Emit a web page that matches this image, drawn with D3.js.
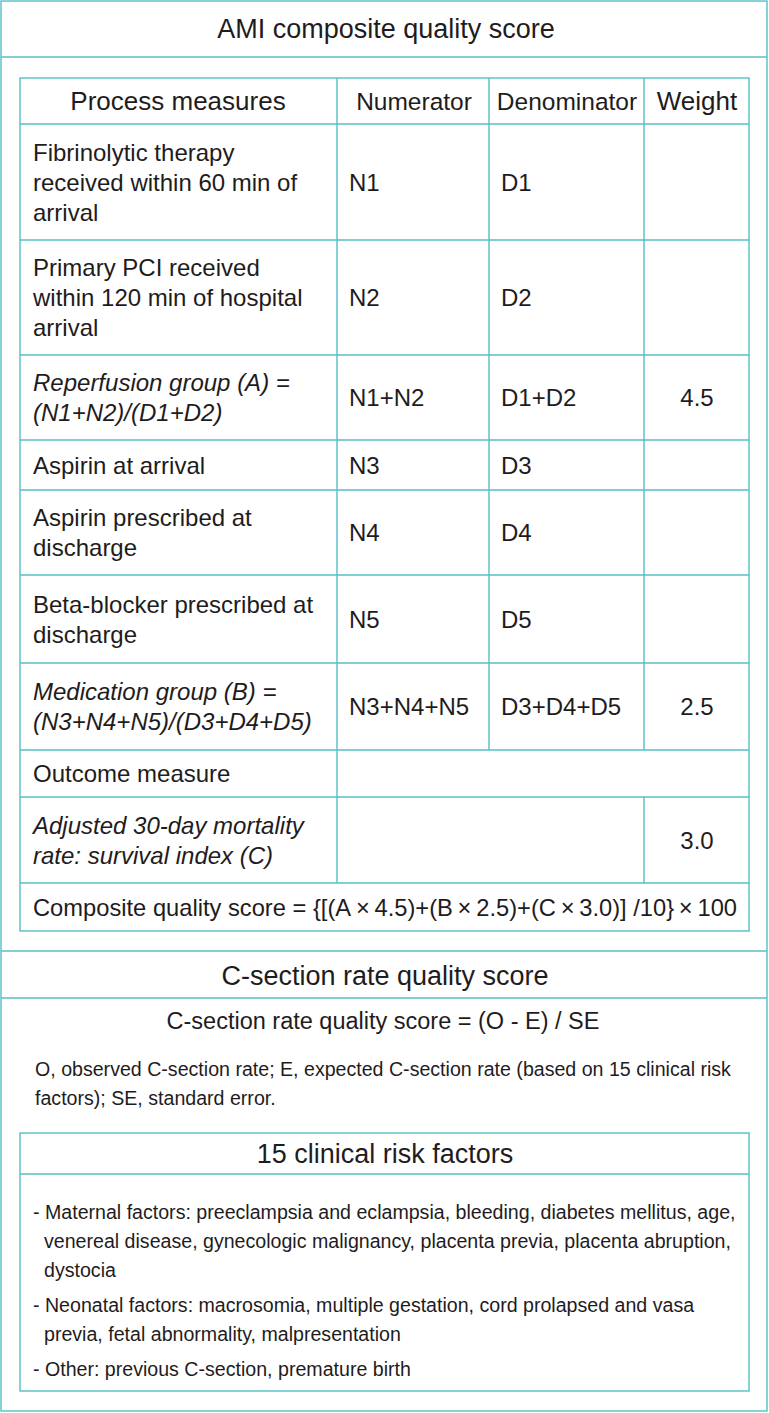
<!DOCTYPE html>
<html>
<head>
<meta charset="utf-8">
<script src="https://cdn.jsdelivr.net/npm/d3@7"></script>
<style>
  body { margin: 0; background: #fff; }
  text { font-family: "Liberation Sans", Arial, sans-serif; fill: #1f1c1d; }
</style>
</head>
<body>
<div class="table__container"></div>
<script>
// data
const headers = ['Process measures', 'Numerator', 'Denominator', 'Weight'];
const measures = [
    ['Fibrinolytic therapy', 'received within 60 min of', 'arrival'],
    ['Primary PCI received', 'within 120 min of hospital', 'arrival'],
    ['Reperfusion group (A) =', '(N1+N2)/(D1+D2)'],
    ['Aspirin at arrival'],
    ['Aspirin prescribed at', 'discharge'],
    ['Beta-blocker prescribed at', 'discharge'],
    ['Medication group (B) =', '(N3+N4+N5)/(D3+D4+D5)'],
    ['Outcome measure'],
    ['Adjusted 30-day mortality', 'rate: survival index (C)']
];
const numerators = ['N1', 'N2', 'N1+N2', 'N3', 'N4', 'N5', 'N3+N4+N5', '', ''];
const denominators = ['D1', 'D2', 'D1+D2', 'D3', 'D4', 'D5', 'D3+D4+D5', '', ''];
const weights = ['', '', '4.5', '', '', '', '2.5', '', '3.0'];
const groupRows = [2, 6, 8];
const compositeFormula = 'Composite quality score = {[(A\u2009\u00d7\u20094.5)+(B\u2009\u00d7\u20092.5)+(C\u2009\u00d7\u20093.0)] /10}\u2009\u00d7\u2009100';

const csectionTitle = 'C-section rate quality score';
const csectionFormula = 'C-section rate quality score = (O - E) / SE';
const csectionNote = [
    'O, observed C-section rate; E, expected C-section rate (based on 15 clinical risk',
    'factors); SE, standard error.'
];
const riskTitle = '15 clinical risk factors';
const riskFactors = [
    ['- Maternal factors: preeclampsia and eclampsia, bleeding, diabetes mellitus, age,',
     'venereal disease, gynecologic malignancy, placenta previa, placenta abruption,',
     'dystocia'],
    ['- Neonatal factors: macrosomia, multiple gestation, cord prolapsed and vasa',
     'previa, fetal abnormality, malpresentation'],
    ['- Other: previous C-section, premature birth']
];

// layout
const width = 769;
const height = 1413;
const teal = '#55bfc4';
const colEdges = [20, 337, 489, 644, 749];
const rowEdges = [78, 124, 240, 355, 440, 490, 575, 663, 750, 797, 883, 931];

const svg = d3.select('.table__container')
    .append('svg')
    .attr('width', width)
    .attr('height', height);

const line = (x1, y1, x2, y2) => svg.append('line')
    .attr('x1', x1).attr('y1', y1).attr('x2', x2).attr('y2', y2)
    .attr('stroke', teal).attr('stroke-width', 1.4);
const rect = (x, y, w, h) => svg.append('rect')
    .attr('x', x).attr('y', y).attr('width', w).attr('height', h)
    .attr('fill', 'none').attr('stroke', teal).attr('stroke-width', 1.4);

// outer frame and section dividers
rect(1, 1, 766, 1410);
line(1, 57, 767, 57);
line(1, 951, 767, 951);
line(1, 998, 767, 998);

svg.append('text')
    .attr('x', 386).attr('y', 38)
    .attr('text-anchor', 'middle')
    .style('font-size', '27px')
    .text('AMI composite quality score');

// AMI table
const colX = d3.scaleOrdinal().domain(headers).range(colEdges.slice(0, 4));
const nRows = rowEdges.length - 1;
rect(colEdges[0], rowEdges[0], colEdges[4] - colEdges[0], rowEdges[nRows] - rowEdges[0]);
rowEdges.slice(1, nRows).forEach(y => line(colEdges[0], y, colEdges[4], y));

// vertical dividers per row (outcome row merged, survival row no num/den split)
const rowDividers = (i) => {
    if (i === 8) return [colEdges[1]];
    if (i === 9) return [colEdges[1], colEdges[3]];
    if (i === 10) return [];
    return [colEdges[1], colEdges[2], colEdges[3]];
};
d3.range(nRows).forEach(i => {
    rowDividers(i).forEach(x => line(x, rowEdges[i], x, rowEdges[i + 1]));
});

// header row
const headerCenters = [178, 414, 567, 697];
svg.append('g')
    .selectAll('text')
    .data(headers)
    .join('text')
    .attr('x', (d, i) => headerCenters[i])
    .attr('y', (rowEdges[0] + rowEdges[1]) / 2 + 9)
    .attr('text-anchor', 'middle')
    .style('font-size', (d, i) => i === 0 || i === 3 ? '26px' : '24.5px')
    .text(d => d);

// body rows
const lineH = 30;
const fs = '24px';
const body = svg.append('g').attr('class', 'table-body');
measures.forEach((lines, i) => {
    const top = rowEdges[i + 1];
    const bottom = rowEdges[i + 2];
    const cy = (top + bottom) / 2;
    const italic = groupRows.includes(i);
    const t = body.append('text')
        .attr('x', colX('Process measures') + 13)
        .attr('y', cy - (lines.length - 1) * lineH / 2 + 8.5)
        .style('font-size', fs)
        .style('font-style', italic ? 'italic' : 'normal');
    lines.forEach((l, j) => {
        t.append('tspan')
            .attr('x', colX('Process measures') + 13)
            .attr('dy', j === 0 ? 0 : lineH)
            .text(l);
    });
    body.append('text')
        .attr('x', colX('Numerator') + 12)
        .attr('y', cy + 8.5)
        .style('font-size', fs)
        .text(numerators[i]);
    body.append('text')
        .attr('x', colX('Denominator') + 12)
        .attr('y', cy + 8.5)
        .style('font-size', fs)
        .text(denominators[i]);
    body.append('text')
        .attr('x', headerCenters[3])
        .attr('y', cy + 8.5)
        .attr('text-anchor', 'middle')
        .style('font-size', fs)
        .text(weights[i]);
});

svg.append('text')
    .attr('x', 385)
    .attr('y', (rowEdges[10] + rowEdges[11]) / 2 + 9)
    .attr('text-anchor', 'middle')
    .attr('textLength', 704)
    .attr('lengthAdjust', 'spacingAndGlyphs')
    .style('font-size', '24px')
    .text(compositeFormula);

// C-section section
svg.append('text')
    .attr('x', 385).attr('y', 985)
    .attr('text-anchor', 'middle')
    .style('font-size', '27px')
    .text(csectionTitle);

svg.append('text')
    .attr('x', 383).attr('y', 1029)
    .attr('text-anchor', 'middle')
    .style('font-size', '23.5px')
    .text(csectionFormula);

svg.append('g')
    .selectAll('text')
    .data(csectionNote)
    .join('text')
    .attr('x', 35)
    .attr('y', (d, i) => 1076 + i * 29)
    .style('font-size', '19.6px')
    .text(d => d);

// risk factors box
rect(20, 1133, 729, 258);
line(20, 1174, 749, 1174);
svg.append('text')
    .attr('x', 385).attr('y', 1163)
    .attr('text-anchor', 'middle')
    .style('font-size', '27px')
    .text(riskTitle);

let yPos = 1219;
const risk = svg.append('g').attr('class', 'risk-factors');
riskFactors.forEach(item => {
    item.forEach((l, j) => {
        risk.append('text')
            .attr('x', j === 0 ? 33 : 44)
            .attr('y', yPos)
            .style('font-size', '19.6px')
            .text(l);
        yPos += 29;
    });
    yPos += 6;
});
</script>
</body>
</html>
